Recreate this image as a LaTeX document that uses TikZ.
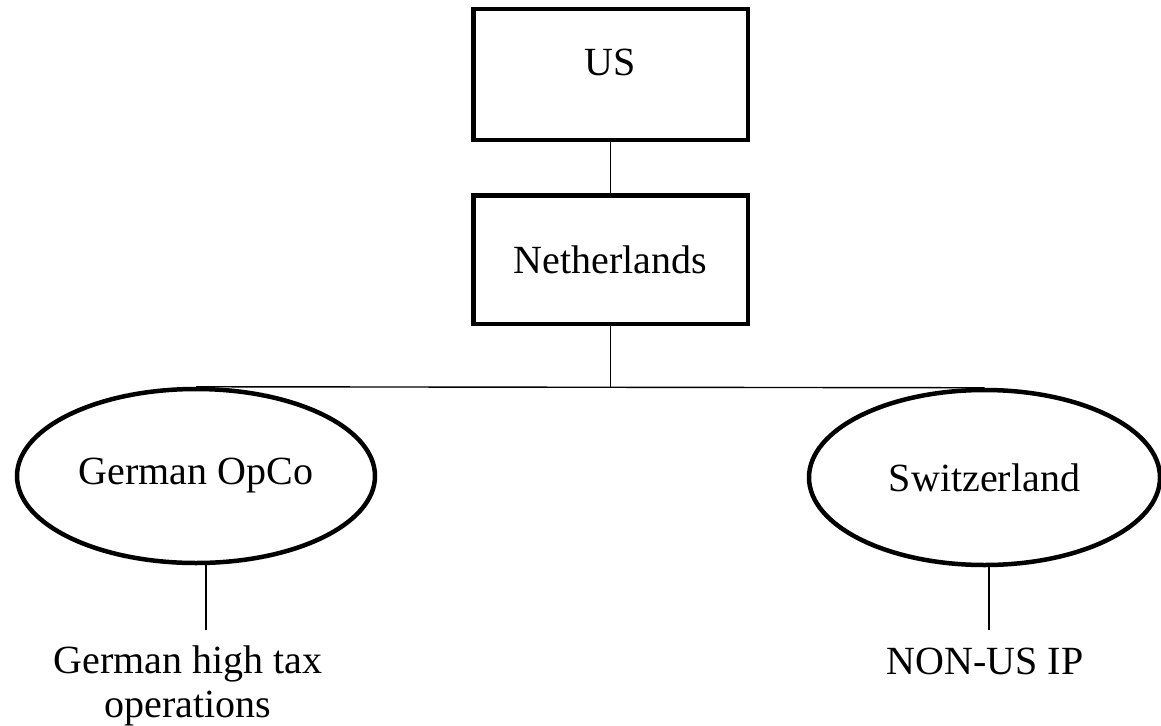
\documentclass[tikz,border=0pt]{standalone}
\usepackage{fontspec}
\setmainfont{Liberation Serif}
\usetikzlibrary{shapes.geometric}
\begin{document}
\begin{tikzpicture}[x=1pt,y=-1pt,
  box/.style={draw,line width=4.5pt,rectangle,inner sep=0pt,minimum width=274.5pt,minimum height=#1},
  oval/.style={draw,line width=4.5pt,ellipse,inner sep=0pt},
  conn/.style={line width=1.4pt},
  lbl/.style={font=\fontsize{40}{44}\selectfont,align=center,inner sep=0pt}]
\useasboundingbox (0,0) rectangle (1161,725);
\node[box=130.5pt,label={[lbl,yshift=12pt]center:US}] (us) at (610.5,74.5) {};
\node[box=128.5pt,lbl] (nl) at (610.5,259.5) {Netherlands};
\node[oval,minimum width=358pt,minimum height=174pt,font=\fontsize{40}{44}\selectfont] (go) at (196,476) {German OpCo};
\node[oval,minimum width=351pt,minimum height=175pt,font=\fontsize{40}{44}\selectfont] (sw) at (984.5,477.5) {Switzerland};
\node[lbl,anchor=base] (gt) at (188,717) {German high tax\\operations};
\node[lbl,anchor=base] (nip) at (985,674) {NON-US IP};
\coordinate (gend) at (206,630);
\coordinate (send) at (989,630);
\draw[conn] (us.south) -- (nl.north);
\draw[conn] (go.north) -- (sw.north);
\draw[conn] (nl.south) -- (nl.south |- go.north);
\draw[conn] (gend |- go.south) -- (gend);
\draw[conn] (send |- sw.south) -- (send);
\end{tikzpicture}
\end{document}
